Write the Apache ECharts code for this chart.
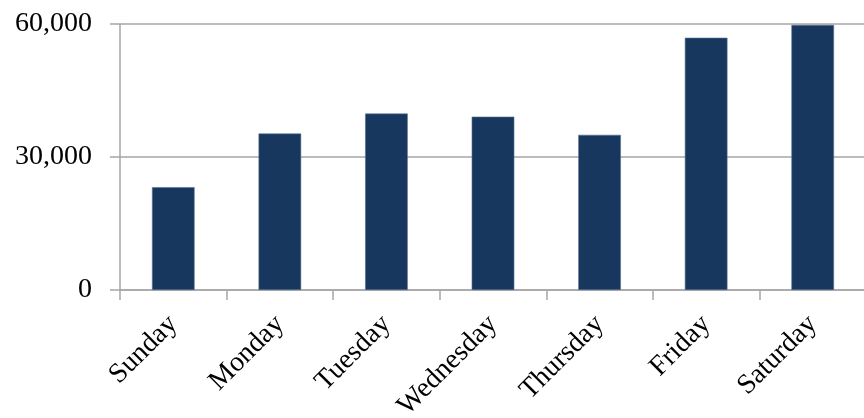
<!DOCTYPE html>
<html>
<head>
<meta charset="utf-8">
<script src="https://cdn.jsdelivr.net/npm/echarts@6/dist/echarts.min.js"></script>
<style>
  html, body { margin: 0; padding: 0; background: #ffffff; }
  #chart { width: 864px; height: 418px; }
</style>
</head>
<body>
<div id="chart"></div>
<script>
// Weekly totals by day
const days = ['Sunday', 'Monday', 'Tuesday', 'Wednesday', 'Thursday', 'Friday', 'Saturday'];
const totals = [23200, 35300, 39800, 39100, 35000, 56900, 59800];
const yTicks = [0, 30000, 60000];

const axisGray = '#a6a6a6';
const serif = '"Liberation Serif", "Times New Roman", serif';

const chart = echarts.init(document.getElementById('chart'));
chart.setOption({
  animation: false,
  backgroundColor: '#ffffff',
  grid: { left: 120, right: -2, top: 24, bottom: 128, containLabel: false, outerBoundsMode: 'none' },
  xAxis: {
    type: 'category',
    data: days,
    boundaryGap: true,
    axisLine: { show: true, lineStyle: { color: axisGray, width: 1.5 } },
    axisTick: { show: true, alignWithLabel: false, length: 10, lineStyle: { color: axisGray, width: 1.5 } },
    axisLabel: {
      interval: 0,
      rotate: 45,
      margin: 30,
      color: '#000000',
      fontFamily: serif,
      fontSize: 28
    }
  },
  yAxis: {
    type: 'value',
    min: yTicks[0],
    max: yTicks[yTicks.length - 1],
    interval: yTicks[1] - yTicks[0],
    axisLine: { show: true, lineStyle: { color: axisGray, width: 1.5 } },
    axisTick: { show: true, length: 10, lineStyle: { color: axisGray, width: 1.5 } },
    splitLine: { show: true, lineStyle: { color: axisGray, width: 1.5 } },
    axisLabel: {
      margin: 28,
      color: '#000000',
      fontFamily: serif,
      fontSize: 28,
      formatter: v => v.toLocaleString('en-US')
    }
  },
  series: [{
    type: 'bar',
    data: totals,
    barWidth: '40%',
    itemStyle: { color: '#17375e', borderColor: '#5a7396', borderWidth: 0.6 }
  }]
});
</script>
</body>
</html>
